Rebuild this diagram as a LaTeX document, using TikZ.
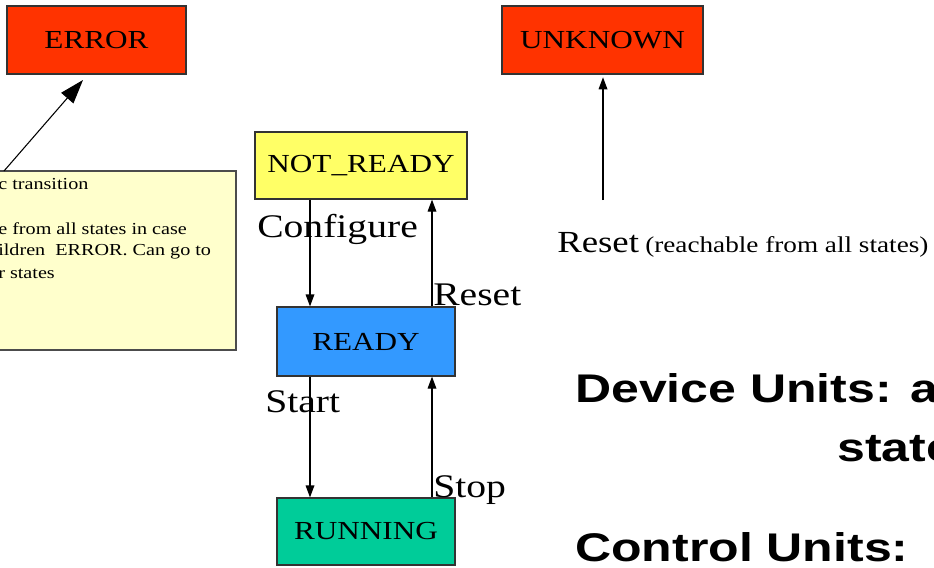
\documentclass[tikz,border=0pt]{standalone}
\usepackage{fontspec}
\setmainfont{Liberation Serif}[FakeStretch=1.2]
\newfontfamily\slidefont{Liberation Sans}[FakeStretch=1.25]
\usetikzlibrary{arrows.meta, positioning, calc}

\definecolor{errred}{HTML}{FF3300}
\definecolor{nrdyellow}{HTML}{FFFF66}
\definecolor{rdyblue}{HTML}{3399FF}
\definecolor{rungreen}{HTML}{00CC99}
\definecolor{notefill}{HTML}{FFFFCC}

\begin{document}
\begin{tikzpicture}[
    x=0.75pt, y=-0.75pt,
    statebox/.style={rectangle, draw=black!80, line width=0.9pt, inner sep=0pt, font=\fontsize{19.5}{22}\selectfont, align=center},
    notebox/.style={rectangle, draw=black!70, line width=0.8pt, fill=notefill, inner sep=0pt},
    notetext/.style={anchor=base west, inner sep=0pt, font=\fontsize{12.6}{14}\selectfont},
    trans/.style={anchor=base west, inner sep=0pt, font=\fontsize{24.75}{28}\selectfont},
    slide/.style={anchor=base west, inner sep=0pt, font=\slidefont\bfseries\fontsize{30}{34}\selectfont},
    arrow/.style={line width=0.9pt, -{Triangle[length=9pt, width=6.5pt]}},
    bigarrow/.style={line width=0.8pt, -{Triangle[length=18pt, width=12pt]}}
]
\useasboundingbox (0,0) rectangle (934,567);
\clip (0,0) rectangle (934,567);

% States
\node (err) [statebox, fill=errred, minimum width=134.25pt, minimum height=51pt] at (96.5,40) {ERROR};
\node (unk) [statebox, fill=errred, minimum width=150.75pt, minimum height=51pt] at (602.5,40) {UNKNOWN};
\node (nrdy) [statebox, fill=nrdyellow, minimum width=159pt, minimum height=50.25pt] at (361,165.5) {NOT\_READY};
\node (rdy) [statebox, fill=rdyblue, minimum width=133.5pt, minimum height=51.75pt] at (366,341.5) {READY};
\node (run) [statebox, fill=rungreen, minimum width=133.5pt, minimum height=50.25pt] at (366,531.5) {RUNNING};

% Note
\node (note) [notebox, minimum width=184.5pt, minimum height=134.25pt] at (113,260.5) {};
\node (nl1) [notetext] at (-2,189) {c transition};
\node (nl2) [notetext] at (-2,234) {e from all states in case};
\node (nl3) [notetext] at (-2,255) {ildren\ \ ERROR. Can go to};
\node (nl4) [notetext] at (-2,278) {r states};

% Connections
\coordinate (lft) at (310,0);
\coordinate (rgt) at (432,0);
\coordinate (notetail) at (4,171);
\coordinate (errtip) at (83,80);
\coordinate (unktail) at (603,200);
\draw [bigarrow] (notetail) -- (errtip);
\draw [arrow] (nrdy.south -| lft) -- (rdy.north -| lft);
\draw [arrow] (rdy.north -| rgt) -- (nrdy.south -| rgt);
\draw [arrow] (rdy.south -| lft) -- (run.north -| lft);
\draw [arrow] (run.north -| rgt) -- (rdy.south -| rgt);
\draw [arrow, shorten >=2pt] (unktail) -- (unk.south -| unktail);

% Labels
\node (cfg) [trans] at (257,237) {Configure};
\node (rst) [trans] at (433,305) {Reset};
\node (sta) [trans] at (265,412) {Start};
\node (stp) [trans] at (433,497) {Stop};
\node (rstall) [anchor=base west, inner sep=0pt] at (557,252) {{\fontsize{23}{26}\selectfont Reset}\ \,{\fontsize{17}{19}\selectfont (reachable from all states)}};

% Slide text
\node (dev) [slide] at (575,402) {Device Units: a};
\node (stt) [slide] at (837,461) {state};
\node (ctl) [slide] at (575,561) {Control Units:};

\end{tikzpicture}
\end{document}
